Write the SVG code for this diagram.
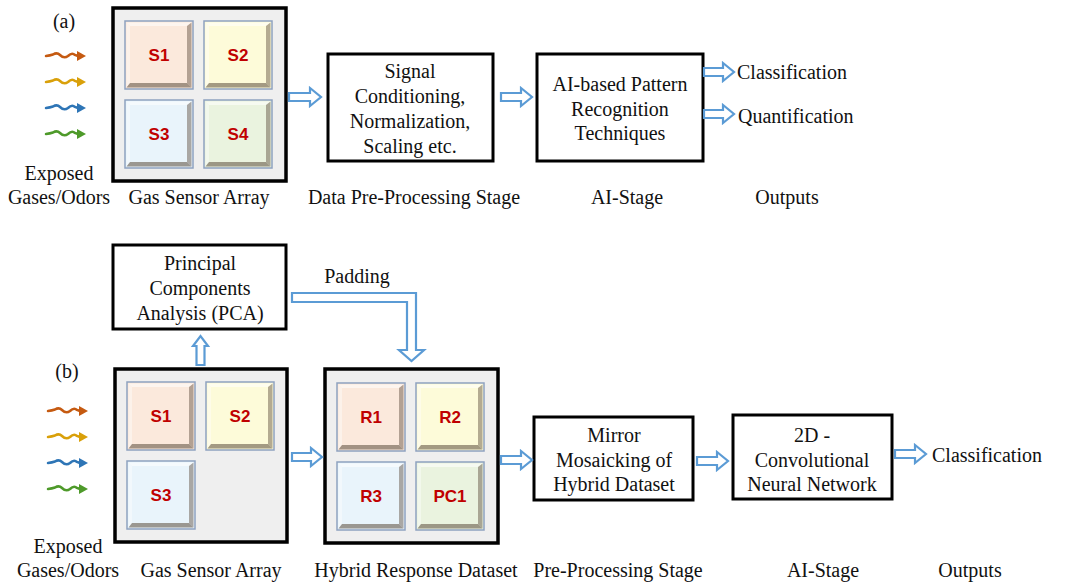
<svg xmlns="http://www.w3.org/2000/svg" xmlns:xlink="http://www.w3.org/1999/xlink" width="1066" height="586" viewBox="0 0 1066 586">
  <style>
    .t { font-family: "Liberation Serif", "Times New Roman", serif; font-size: 20px; fill: #111; }
    .c { text-anchor: middle; }
    .lbl { font-family: "Liberation Sans", Arial, sans-serif; font-weight: bold; font-size: 17px; fill: #c00000; text-anchor: middle; }
    .box { fill: #fff; stroke: #000; stroke-width: 3; }
    .array { fill: #efefef; stroke: #000; stroke-width: 3.5; }
    .barrow { fill: #fff; stroke: #5b9bd5; stroke-width: 2.2; stroke-linejoin: miter; }
    .wave { fill: none; stroke-width: 2.5; stroke-linecap: round; }
  </style>
  <defs>
    <!-- raised sensor tile, face colour comes from the use element's fill -->
    <g id="tile">
      <rect x="0" y="0" width="68" height="68" stroke="#8ea2c0" stroke-width="1.5"/>
      <polygon points="1.5,1.5 66.5,1.5 62,5 5,5" fill="#ffffff" opacity="0.55"/>
      <polygon points="1.5,1.5 5,5 5,62 1.5,66.5" fill="#ffffff" opacity="0.4"/>
      <polygon points="66.5,1.5 66.5,66.5 62,62 62,5" fill="#5a4a3a" opacity="0.45"/>
      <polygon points="1.5,66.5 66.5,66.5 62,62 5,62" fill="#5a4a3a" opacity="0.55"/>
    </g>
    <!-- small wavy gas arrow -->
    <g id="wave">
      <path class="wave" d="M0,0 Q4,-0.5 7,-1.5 Q11,-4 14,-1 Q18,3 22,0 Q26,-4 29,-1 L32,0"/>
      <polygon points="31,-5 40,0 31,5" stroke="none"/>
    </g>
  </defs>

  <!-- ================= panel (a) ================= -->
  <text class="t c" x="64" y="28">(a)</text>

  <g id="a-gases">
    <use xlink:href="#wave" x="46" y="56" fill="#c55a11" stroke="#c55a11"/>
    <use xlink:href="#wave" x="46" y="82" fill="#d9a00a" stroke="#d9a00a"/>
    <use xlink:href="#wave" x="46" y="108" fill="#2e75b6" stroke="#2e75b6"/>
    <use xlink:href="#wave" x="46" y="134" fill="#4e9a2a" stroke="#4e9a2a"/>
    <text class="t c" x="59" y="180">Exposed</text>
    <text class="t c" x="59" y="204">Gases/Odors</text>
  </g>

  <g id="a-sensor-array">
    <rect class="array" x="113" y="8" width="173" height="173"/>
    <use xlink:href="#tile" x="125" y="21" fill="#fbe9dc"/>
    <use xlink:href="#tile" x="204" y="21" fill="#fdfbd9"/>
    <use xlink:href="#tile" x="125" y="100" fill="#e9f4fb"/>
    <use xlink:href="#tile" x="204" y="100" fill="#eaf3df"/>
    <text class="lbl" x="159" y="61">S1</text>
    <text class="lbl" x="238" y="61">S2</text>
    <text class="lbl" x="159" y="140">S3</text>
    <text class="lbl" x="238" y="140">S4</text>
    <text class="t c" x="199" y="204">Gas Sensor Array</text>
  </g>

  <g id="a-preprocessing">
    <rect class="box" x="328" y="54" width="165" height="107"/>
    <text class="t c" x="410" y="78">Signal</text>
    <text class="t c" x="410" y="103">Conditioning,</text>
    <text class="t c" x="410" y="128">Normalization,</text>
    <text class="t c" x="410" y="153">Scaling etc.</text>
    <text class="t c" x="414" y="204">Data Pre-Processing Stage</text>
  </g>

  <g id="a-ai">
    <rect class="box" x="537" y="54" width="166" height="107"/>
    <text class="t c" x="620" y="91">AI-based Pattern</text>
    <text class="t c" x="620" y="116">Recognition</text>
    <text class="t c" x="620" y="140">Techniques</text>
    <text class="t c" x="627" y="204">AI-Stage</text>
  </g>

  <g id="a-outputs">
    <text class="t" x="737" y="79">Classification</text>
    <text class="t" x="738" y="123">Quantification</text>
    <text class="t c" x="787" y="204">Outputs</text>
  </g>

  <g id="a-connectors">
    <path class="barrow" d="M289,93 H310 V88 L321,97 L310,106 V101 H289 Z"/>
    <path class="barrow" d="M501,93 H521 V88 L532,97 L521,106 V101 H501 Z"/>
    <path class="barrow" d="M704,68 H723 V63 L734,72 L723,81 V76 H704 Z"/>
    <path class="barrow" d="M704,110 H723 V105 L734,114 L723,123 V118 H704 Z"/>
  </g>

  <!-- ================= panel (b) ================= -->
  <text class="t c" x="67" y="378">(b)</text>

  <g id="b-pca">
    <rect class="box" x="113" y="245" width="173" height="84"/>
    <text class="t c" x="200" y="270">Principal</text>
    <text class="t c" x="200" y="295">Components</text>
    <text class="t c" x="200" y="320">Analysis (PCA)</text>
  </g>

  <g id="b-gases">
    <use xlink:href="#wave" x="48" y="411" fill="#c55a11" stroke="#c55a11"/>
    <use xlink:href="#wave" x="48" y="437" fill="#d9a00a" stroke="#d9a00a"/>
    <use xlink:href="#wave" x="48" y="463" fill="#2e75b6" stroke="#2e75b6"/>
    <use xlink:href="#wave" x="48" y="489" fill="#4e9a2a" stroke="#4e9a2a"/>
    <text class="t c" x="68" y="553">Exposed</text>
    <text class="t c" x="68" y="577">Gases/Odors</text>
  </g>

  <g id="b-sensor-array">
    <rect class="array" x="115" y="369" width="172" height="173"/>
    <use xlink:href="#tile" x="127" y="382" fill="#fbe9dc"/>
    <use xlink:href="#tile" x="206" y="382" fill="#fdfbd9"/>
    <use xlink:href="#tile" x="127" y="461" fill="#e9f4fb"/>
    <text class="lbl" x="161" y="422">S1</text>
    <text class="lbl" x="240" y="422">S2</text>
    <text class="lbl" x="161" y="501">S3</text>
    <text class="t c" x="211" y="577">Gas Sensor Array</text>
  </g>

  <g id="b-hybrid">
    <rect class="array" x="325" y="369" width="173" height="174"/>
    <use xlink:href="#tile" x="337" y="383" fill="#fbe9dc"/>
    <use xlink:href="#tile" x="416" y="383" fill="#fdfbd9"/>
    <use xlink:href="#tile" x="337" y="462" fill="#e9f4fb"/>
    <use xlink:href="#tile" x="416" y="462" fill="#eaf3df"/>
    <text class="lbl" x="371" y="423">R1</text>
    <text class="lbl" x="450" y="423">R2</text>
    <text class="lbl" x="371" y="502">R3</text>
    <text class="lbl" x="450" y="502">PC1</text>
    <text class="t c" x="416" y="577">Hybrid Response Dataset</text>
  </g>

  <g id="b-mirror">
    <rect class="box" x="534" y="417" width="159" height="83"/>
    <text class="t c" x="614" y="442">Mirror</text>
    <text class="t c" x="614" y="467">Mosaicking of</text>
    <text class="t c" x="614" y="491">Hybrid Dataset</text>
    <text class="t c" x="618" y="577">Pre-Processing Stage</text>
  </g>

  <g id="b-cnn">
    <rect class="box" x="733" y="415" width="159" height="84"/>
    <text class="t c" x="812" y="442">2D -</text>
    <text class="t c" x="812" y="467">Convolutional</text>
    <text class="t c" x="812" y="491">Neural Network</text>
    <text class="t c" x="823" y="577">AI-Stage</text>
  </g>

  <g id="b-outputs">
    <text class="t" x="932" y="462">Classification</text>
    <text class="t c" x="970" y="577">Outputs</text>
  </g>

  <g id="b-connectors">
    <path class="barrow" d="M196.5,365 V346 H193 L200.5,336 L208,346 H204.5 V365 Z"/>
    <path class="barrow" d="M292,293 H416 V350 H424 L411.5,361 L399,350 H407 V302 H292 Z"/>
    <text class="t c" x="357" y="283">Padding</text>
    <path class="barrow" d="M292,453 H311 V448 L322,457 L311,466 V461 H292 Z"/>
    <path class="barrow" d="M501,456 H521 V451 L532,460 L521,469 V464 H501 Z"/>
    <path class="barrow" d="M697,457 H717 V452 L728,461 L717,470 V465 H697 Z"/>
    <path class="barrow" d="M895,450 H915 V445 L926,454 L915,463 V458 H895 Z"/>
  </g>
</svg>
